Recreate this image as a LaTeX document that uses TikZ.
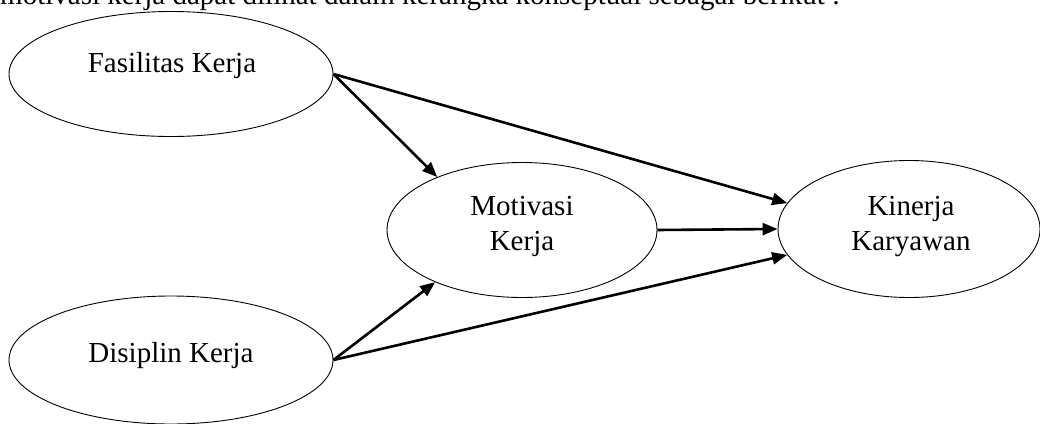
\documentclass[tikz,border=0pt]{standalone}
\usepackage{fontspec}
\setmainfont{Liberation Serif}
\usetikzlibrary{arrows.meta,shapes.geometric}
\begin{document}
\begin{tikzpicture}[x=1pt,y=-1pt,
  oval/.style={draw,ellipse,line width=0.9pt,inner sep=0pt},
  lbl/.style={anchor=base,align=center,inner sep=0pt,font=\fontsize{29}{35}\selectfont},
  arr/.style={line width=2.6pt,-{Triangle[length=15pt,width=12pt]}}]
\useasboundingbox (0,0) rectangle (1040,423);
\clip (0,0) rectangle (1040,423);
\node[anchor=base west,inner sep=0pt,font=\fontsize{29}{35}\selectfont] (intro) at (0,4.5)
  {motivasi kerja dapat dilihat dalam kerangka konseptual sebagai berikut :};
\node[oval,minimum width=324pt,minimum height=125pt] (fas) at (171,74) {};
\node[oval,minimum width=324pt,minimum height=128pt] (dis) at (171,360) {};
\node[oval,minimum width=270pt,minimum height=135pt] (mot) at (522,230) {};
\node[oval,minimum width=262pt,minimum height=137pt] (kin) at (909,229) {};
\node[lbl] (tfas) at (172,72) {Fasilitas Kerja};
\node[lbl] (tdis) at (171,362) {Disiplin Kerja};
\node[lbl] (tmot) at (522,250) {Motivasi\\Kerja};
\node[lbl] (tkin) at (911,250) {Kinerja\\Karyawan};
\draw[arr] (fas.east) -- (mot.148);
\draw[arr] (fas.east) -- (kin.168);
\draw[arr] (dis.east) -- (mot.211);
\draw[arr] (dis.east) -- (kin.192);
\draw[arr] (mot.east) -- (kin.west);
\end{tikzpicture}
\end{document}
